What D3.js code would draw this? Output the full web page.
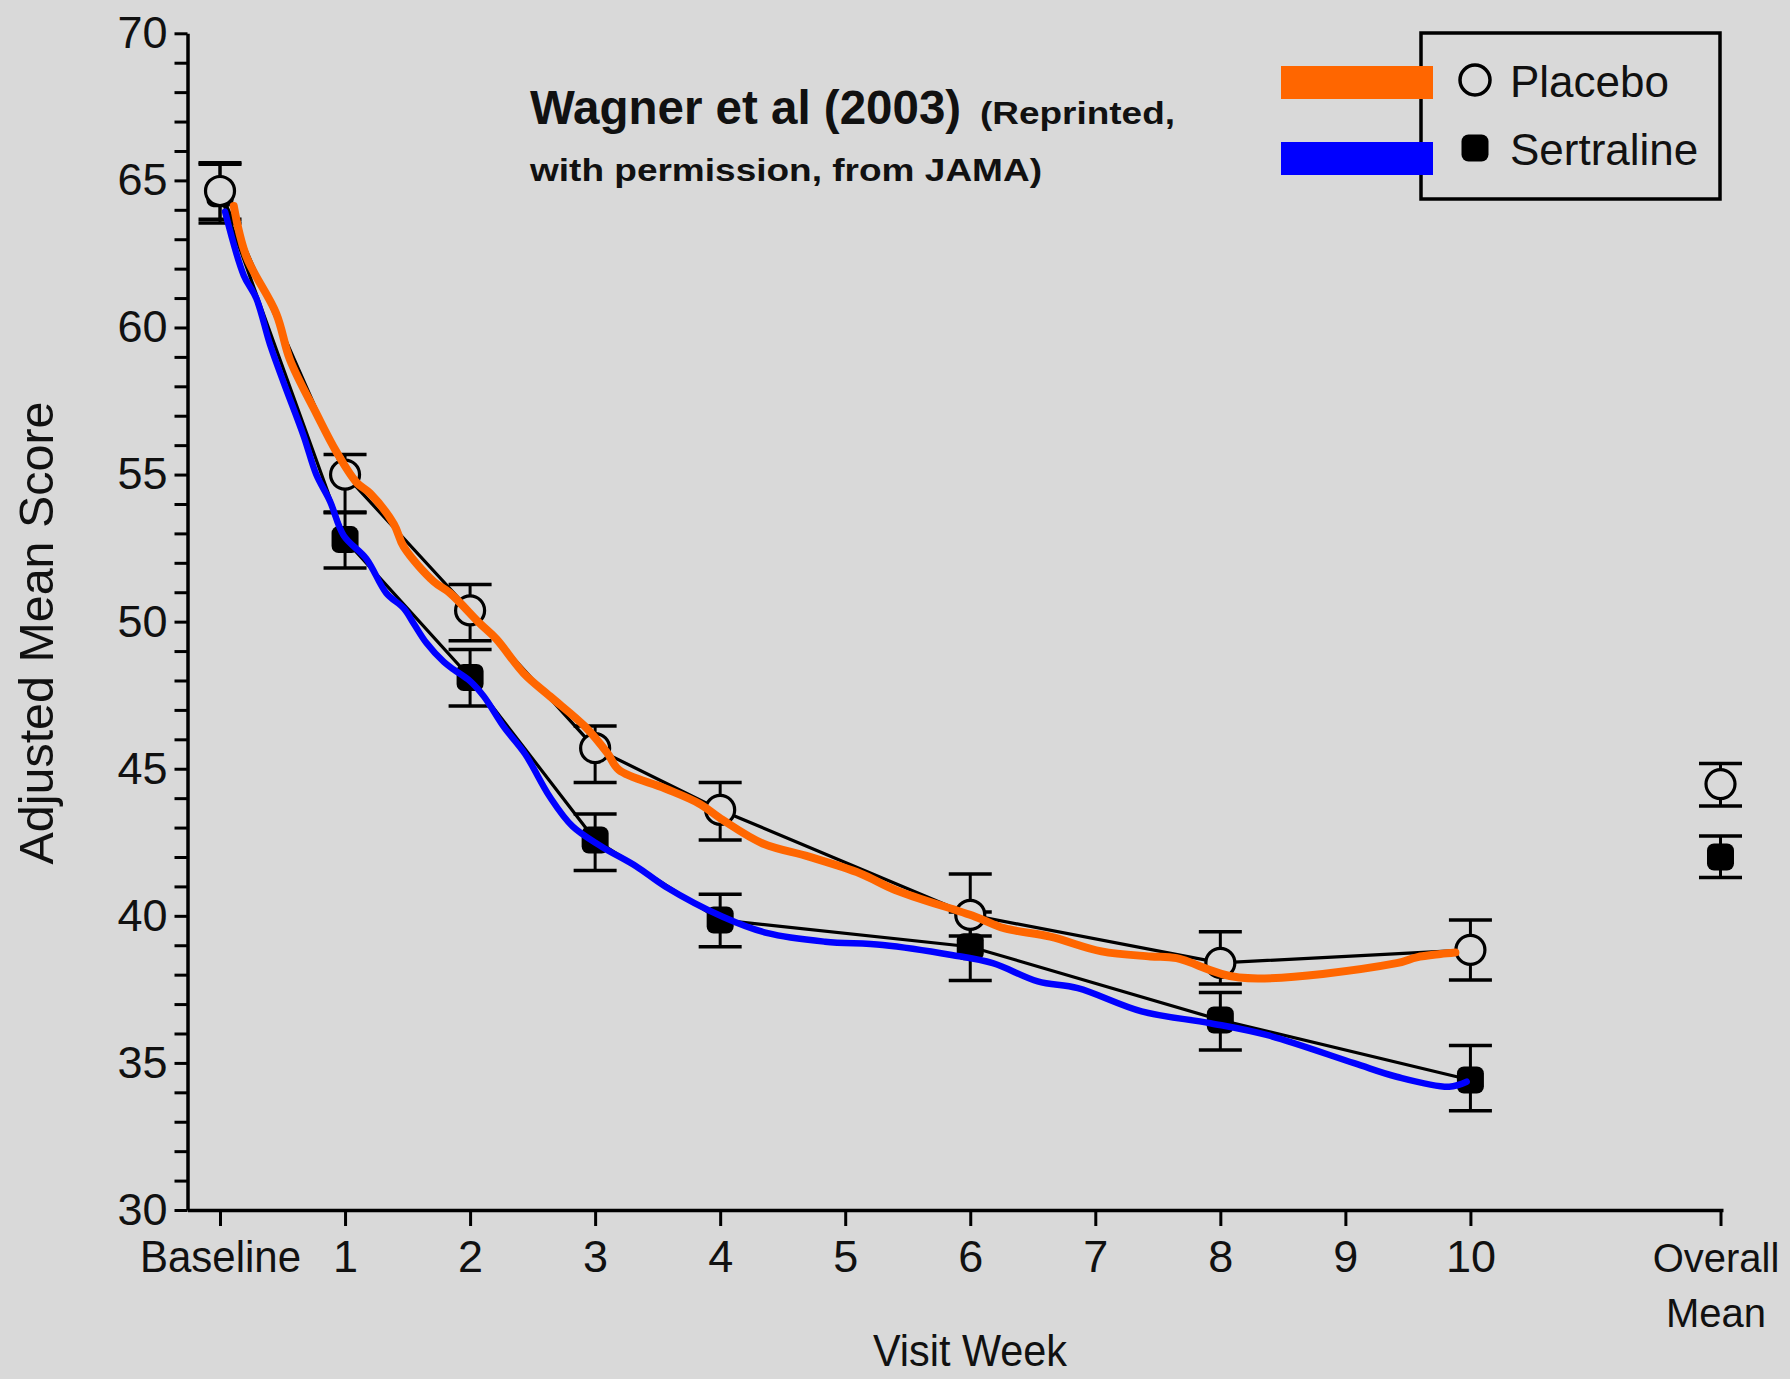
<!DOCTYPE html>
<html>
<head>
<meta charset="utf-8">
<script src="https://cdn.jsdelivr.net/npm/d3@7"></script>
<style>
  html, body { margin: 0; padding: 0; background: #d9d9d9; }
  svg { display: block; }
  text { font-family: "Liberation Sans", Arial, Helvetica, sans-serif; fill: #111; }
</style>
</head>
<body>
<div id="chart"></div>
<script>
// ---- data ----
// visit weeks (baseline = week 0), overall mean sits at 12 on the axis
const weeks = [0, 1, 2, 3, 4, 6, 8, 10];
const weekTicks = [0, 1, 2, 3, 4, 5, 6, 7, 8, 9, 10, 12];
const weekLabels = ["Baseline", "1", "2", "3", "4", "5", "6", "7", "8", "9", "10", "Overall|Mean"];

const placeboMean = [64.64, 55.0, 50.38, 45.7, 43.6, 40.03, 38.4, 38.84];
const placeboHi   = [65.6, 55.68, 51.26, 46.45, 44.53, 41.42, 39.46, 39.86];
const placeboLo   = [63.68, 53.73, 49.35, 44.53, 42.58, 39.31, 37.68, 37.82];

const sertralineMean = [64.55, 52.79, 48.1, 42.58, 39.86, 38.95, 36.46, 34.42];
const sertralineHi   = [65.55, 53.7, 49.05, 43.46, 40.73, 40.13, 37.39, 35.59];
const sertralineLo   = [63.55, 51.82, 47.13, 41.54, 38.95, 37.8, 35.44, 33.37];

// overall mean: [placebo, sertraline]
const overallWeek = 12;
const overallMean = [44.48, 42.0];
const overallHi   = [45.18, 42.71];
const overallLo   = [43.73, 41.3];

// hand drawn trend curves over the figure
const orangeWeeks  = [0.11, 0.21, 0.45, 0.56, 0.77, 0.93, 1.09, 1.2, 1.39, 1.47, 1.71, 1.84, 2.08, 2.21, 2.43, 2.64, 2.92, 3.1, 3.19, 3.56, 3.83, 4.02, 4.34, 4.71, 5.12, 5.4, 6.04, 6.27, 6.64, 7.05, 7.44, 7.65, 8.15, 9.41, 9.57, 9.76, 9.88];
const orangeValues = [64.13, 62.42, 60.47, 58.9, 57.08, 55.78, 54.74, 54.36, 53.32, 52.54, 51.36, 50.97, 49.93, 49.41, 48.24, 47.46, 46.43, 45.52, 44.96, 44.33, 43.82, 43.26, 42.46, 42.01, 41.44, 40.88, 39.97, 39.58, 39.29, 38.79, 38.62, 38.56, 37.9, 38.39, 38.59, 38.7, 38.75];

const blueWeeks  = [0.04, 0.19, 0.29, 0.4, 0.51, 0.67, 0.77, 0.88, 0.99, 1.17, 1.33, 1.47, 1.55, 1.65, 1.79, 1.87, 2.0, 2.11, 2.27, 2.44, 2.64, 2.82, 3.05, 3.33, 3.56, 4.02, 4.38, 4.84, 5.3, 5.85, 6.18, 6.54, 6.86, 7.37, 7.92, 8.37, 9.07, 9.41, 9.83, 9.97];
const blueValues = [63.94, 61.77, 60.99, 59.42, 58.12, 56.3, 55.0, 54.09, 52.92, 52.14, 50.97, 50.45, 49.93, 49.28, 48.63, 48.37, 47.98, 47.46, 46.42, 45.5, 44.03, 43.04, 42.36, 41.68, 41.0, 39.97, 39.41, 39.12, 39.01, 38.67, 38.39, 37.77, 37.54, 36.75, 36.35, 35.95, 34.99, 34.53, 34.19, 34.36];

const legendNames = ["Placebo", "Sertraline"];
const legendColors = ["#ff6600", "#0000ff"];

// ---- layout ----
const width = 1790, height = 1379;
const bg = "#d9d9d9";

const svg = d3.select("#chart").append("svg")
  .attr("width", width)
  .attr("height", height)
  .style("background", bg);

const x = d3.scaleLinear().domain([-0.26, 12.02]).range([187.5, 1723]);
const y = d3.scaleLinear().domain([30, 70]).range([1210, 33.3]);

// ---- axes ----
const yAxis = svg.append("g")
  .attr("transform", `translate(${x(-0.26)},0)`)
  .call(d3.axisLeft(y)
    .tickValues(d3.range(30, 71, 1))
    .tickSize(13)
    .tickSizeOuter(0)
    .tickPadding(7)
    .tickFormat(d => d % 5 === 0 ? d : ""));

const xAxis = svg.append("g")
  .attr("transform", `translate(0,${y(30)})`)
  .call(d3.axisBottom(x)
    .tickValues(weekTicks)
    .tickSize(16)
    .tickSizeOuter(0)
    .tickPadding(13)
    .tickFormat(""));

[yAxis, xAxis].forEach(a => {
  a.select(".domain").attr("stroke", "#000").attr("stroke-width", 3.5);
  a.selectAll(".tick line").attr("stroke", "#000").attr("stroke-width", 3);
});
yAxis.selectAll(".tick text").style("font-size", "45px").attr("fill", "#111");

// x tick labels (two lines for "Overall Mean")
xAxis.selectAll(".tick text").remove();
xAxis.selectAll(".tick").append("text")
  .attr("text-anchor", "middle")
  .attr("fill", "#111")
  .each(function (d) {
    const parts = weekLabels[weekTicks.indexOf(d)].split("|");
    const t = d3.select(this);
    // the two-line label hugs the right edge, so it is set a bit smaller
    t.style("font-size", parts.length > 1 ? "40px" : "45px");
    if (parts.length > 1) t.attr("transform", "translate(-5,0)");
    parts.forEach((p, i) => {
      const ts = t.append("tspan").attr("x", 0).attr("y", 62 + i * 55).text(p);
      if (p === "Baseline") ts.attr("textLength", 161).attr("lengthAdjust", "spacingAndGlyphs");
    });
  });

// axis titles
svg.append("text")
  .attr("x", 970).attr("y", 1366)
  .attr("text-anchor", "middle")
  .style("font-size", "45px")
  .attr("textLength", 194).attr("lengthAdjust", "spacingAndGlyphs")
  .text("Visit Week");

svg.append("text")
  .attr("transform", "translate(53,633) rotate(-90)")
  .attr("text-anchor", "middle")
  .style("font-size", "48px")
  .attr("textLength", 463).attr("lengthAdjust", "spacingAndGlyphs")
  .text("Adjusted Mean Score");

// ---- title ----
svg.append("text")
  .attr("x", 530).attr("y", 124)
  .style("font-size", "47.5px").style("font-weight", "bold")
  .attr("fill", "#000")
  .text("Wagner et al (2003)");
svg.append("text")
  .attr("x", 980).attr("y", 124)
  .style("font-size", "31px").style("font-weight", "bold")
  .attr("fill", "#000")
  .attr("textLength", 195).attr("lengthAdjust", "spacingAndGlyphs")
  .text("(Reprinted,");
svg.append("text")
  .attr("x", 530).attr("y", 181)
  .style("font-size", "31px").style("font-weight", "bold")
  .attr("fill", "#000")
  .attr("textLength", 512).attr("lengthAdjust", "spacingAndGlyphs")
  .text("with permission, from JAMA)");

// ---- plot ----
const plot = svg.append("g");

const placebo = weeks.map((w, i) => ({ w, v: placeboMean[i], hi: placeboHi[i], lo: placeboLo[i] }));
const sertraline = weeks.map((w, i) => ({ w, v: sertralineMean[i], hi: sertralineHi[i], lo: sertralineLo[i] }));
const overallP = { w: overallWeek, v: overallMean[0], hi: overallHi[0], lo: overallLo[0] };
const overallS = { w: overallWeek, v: overallMean[1], hi: overallHi[1], lo: overallLo[1] };

// thin black connecting lines
const connect = d3.line().x(d => x(d.w)).y(d => y(d.v));
[placebo, sertraline].forEach(s => {
  plot.append("path")
    .attr("d", connect(s))
    .attr("fill", "none")
    .attr("stroke", "#000")
    .attr("stroke-width", 3.2);
});

// error bars
const allPts = sertraline.concat([overallS], placebo, [overallP]);
const capHalf = 21.5;
const eb = plot.append("g").selectAll("g").data(allPts).join("g");
eb.append("line")
  .attr("x1", d => x(d.w)).attr("x2", d => x(d.w))
  .attr("y1", d => y(d.hi)).attr("y2", d => y(d.lo))
  .attr("stroke", "#000").attr("stroke-width", 3);
eb.append("line")
  .attr("x1", d => x(d.w) - capHalf).attr("x2", d => x(d.w) + capHalf)
  .attr("y1", d => y(d.hi)).attr("y2", d => y(d.hi))
  .attr("stroke", "#000").attr("stroke-width", 3.5);
eb.append("line")
  .attr("x1", d => x(d.w) - capHalf).attr("x2", d => x(d.w) + capHalf)
  .attr("y1", d => y(d.lo)).attr("y2", d => y(d.lo))
  .attr("stroke", "#000").attr("stroke-width", 3.5);

// markers
const sq = 27;
plot.append("g").selectAll("rect")
  .data(sertraline.concat([overallS]))
  .join("rect")
  .attr("x", d => x(d.w) - sq / 2).attr("y", d => y(d.v) - sq / 2)
  .attr("width", sq).attr("height", sq)
  .attr("rx", 7)
  .attr("fill", "#000");

plot.append("g").selectAll("circle")
  .data(placebo.concat([overallP]))
  .join("circle")
  .attr("cx", d => x(d.w)).attr("cy", d => y(d.v))
  .attr("r", 14.5)
  .attr("fill", bg)
  .attr("stroke", "#000").attr("stroke-width", 3.2);

// coloured trend curves on top
const trend = d3.line().curve(d3.curveCatmullRom.alpha(0.5)).x(d => x(d[0])).y(d => y(d[1]));
plot.append("path")
  .attr("d", trend(d3.zip(blueWeeks, blueValues)))
  .attr("fill", "none").attr("stroke", legendColors[1])
  .attr("stroke-width", 6.5).attr("stroke-linecap", "round").attr("stroke-linejoin", "round");
plot.append("path")
  .attr("d", trend(d3.zip(orangeWeeks, orangeValues)))
  .attr("fill", "none").attr("stroke", legendColors[0])
  .attr("stroke-width", 8).attr("stroke-linecap", "round").attr("stroke-linejoin", "round");

// ---- legend ----
const legend = svg.append("g");
legend.append("rect")
  .attr("x", 1421).attr("y", 33).attr("width", 299).attr("height", 166)
  .attr("fill", "none").attr("stroke", "#000").attr("stroke-width", 3.5);

legendNames.forEach((name, i) => {
  const cy = 80 + i * 68;
  // colour swatch sits slightly off the marker rows, as in the original
  legend.append("rect")
    .attr("x", 1281).attr("y", 66 + i * 76).attr("width", 152).attr("height", 33)
    .attr("fill", legendColors[i]);
  if (i === 0) {
    legend.append("circle").attr("cx", 1475).attr("cy", cy).attr("r", 15)
      .attr("fill", bg).attr("stroke", "#000").attr("stroke-width", 3.5);
  } else {
    legend.append("rect").attr("x", 1475 - sq / 2).attr("y", cy - sq / 2)
      .attr("width", sq).attr("height", sq).attr("rx", 7).attr("fill", "#000");
  }
  legend.append("text")
    .attr("x", 1510).attr("y", cy + 17)
    .style("font-size", "44px")
    .text(name);
});
</script>
</body>
</html>
